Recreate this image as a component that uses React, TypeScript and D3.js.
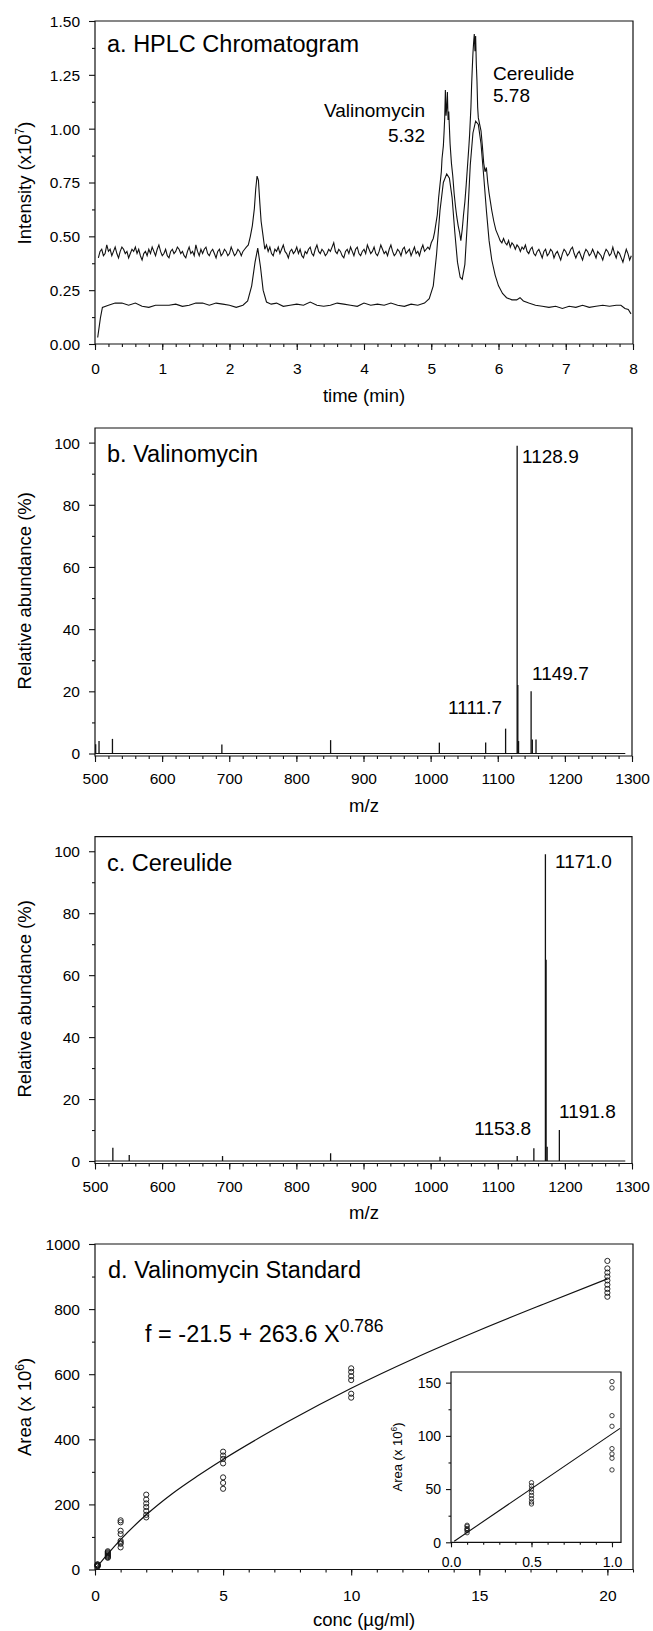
import React, { useEffect, useRef } from "react";
import * as d3 from "d3";

const FONT = "'Liberation Sans', Arial, Helvetica, sans-serif";

// ---- a. HPLC chromatogram: [time (min), intensity (x10^7)]
const ticTrace: [number, number][] = [
  [0.05, 0.4], [0.075, 0.43], [0.1, 0.44], [0.125, 0.41], [0.15, 0.42], [0.175, 0.46], [0.2, 0.43], [0.225, 0.44],
  [0.25, 0.41], [0.275, 0.43], [0.3, 0.45], [0.325, 0.42], [0.35, 0.4], [0.375, 0.43], [0.4, 0.45], [0.425, 0.44],
  [0.45, 0.42], [0.475, 0.43], [0.5, 0.4], [0.525, 0.42], [0.55, 0.44], [0.575, 0.43], [0.6, 0.45], [0.625, 0.42],
  [0.65, 0.44], [0.675, 0.41], [0.7, 0.39], [0.725, 0.42], [0.75, 0.43], [0.775, 0.41], [0.8, 0.44], [0.825, 0.42],
  [0.85, 0.45], [0.875, 0.43], [0.9, 0.41], [0.925, 0.44], [0.95, 0.46], [0.975, 0.43], [1.0, 0.41], [1.025, 0.42],
  [1.05, 0.44], [1.075, 0.41], [1.1, 0.4], [1.125, 0.43], [1.15, 0.44], [1.175, 0.42], [1.2, 0.43], [1.225, 0.45],
  [1.25, 0.44], [1.275, 0.42], [1.3, 0.43], [1.325, 0.41], [1.35, 0.4], [1.375, 0.43], [1.4, 0.45], [1.425, 0.42],
  [1.45, 0.43], [1.475, 0.41], [1.5, 0.46], [1.525, 0.43], [1.55, 0.41], [1.575, 0.44], [1.6, 0.42], [1.625, 0.44],
  [1.65, 0.45], [1.675, 0.42], [1.7, 0.41], [1.725, 0.43], [1.75, 0.44], [1.775, 0.42], [1.8, 0.4], [1.825, 0.43],
  [1.85, 0.44], [1.875, 0.41], [1.9, 0.42], [1.925, 0.44], [1.95, 0.43], [1.975, 0.41], [2.0, 0.42], [2.025, 0.45],
  [2.05, 0.43], [2.075, 0.41], [2.1, 0.42], [2.125, 0.44], [2.15, 0.43], [2.175, 0.41], [2.2, 0.43], [2.225, 0.44],
  [2.25, 0.45], [2.28, 0.46], [2.31, 0.5], [2.34, 0.55], [2.37, 0.63], [2.39, 0.72], [2.41, 0.78], [2.43, 0.76],
  [2.45, 0.66], [2.47, 0.57], [2.5, 0.5], [2.525, 0.44], [2.55, 0.46], [2.575, 0.43], [2.6, 0.45], [2.625, 0.42],
  [2.65, 0.41], [2.675, 0.44], [2.7, 0.43], [2.725, 0.45], [2.75, 0.42], [2.775, 0.44], [2.8, 0.46], [2.825, 0.43],
  [2.85, 0.42], [2.875, 0.4], [2.9, 0.43], [2.925, 0.44], [2.95, 0.42], [2.975, 0.43], [3.0, 0.45], [3.025, 0.42],
  [3.05, 0.44], [3.075, 0.41], [3.1, 0.4], [3.125, 0.43], [3.15, 0.42], [3.175, 0.44], [3.2, 0.45], [3.225, 0.42],
  [3.25, 0.41], [3.275, 0.44], [3.3, 0.46], [3.325, 0.43], [3.35, 0.42], [3.375, 0.44], [3.4, 0.43], [3.425, 0.41],
  [3.45, 0.42], [3.475, 0.44], [3.5, 0.43], [3.525, 0.45], [3.55, 0.47], [3.575, 0.43], [3.6, 0.42], [3.625, 0.44],
  [3.65, 0.43], [3.675, 0.41], [3.7, 0.4], [3.725, 0.43], [3.75, 0.44], [3.775, 0.42], [3.8, 0.45], [3.825, 0.43],
  [3.85, 0.41], [3.875, 0.44], [3.9, 0.45], [3.925, 0.42], [3.95, 0.41], [3.975, 0.43], [4.0, 0.44], [4.025, 0.42],
  [4.05, 0.46], [4.075, 0.44], [4.1, 0.42], [4.125, 0.43], [4.15, 0.45], [4.175, 0.42], [4.2, 0.41], [4.225, 0.43],
  [4.25, 0.46], [4.275, 0.44], [4.3, 0.42], [4.325, 0.43], [4.35, 0.41], [4.375, 0.44], [4.4, 0.46], [4.425, 0.43],
  [4.45, 0.41], [4.475, 0.42], [4.5, 0.44], [4.525, 0.43], [4.55, 0.41], [4.575, 0.44], [4.6, 0.45], [4.625, 0.42],
  [4.65, 0.43], [4.675, 0.44], [4.7, 0.41], [4.725, 0.43], [4.75, 0.45], [4.775, 0.42], [4.8, 0.43], [4.825, 0.41],
  [4.85, 0.44], [4.875, 0.46], [4.9, 0.43], [4.925, 0.44], [4.95, 0.45], [4.975, 0.44], [5.0, 0.47], [5.03, 0.49],
  [5.05, 0.52], [5.07, 0.56], [5.09, 0.6], [5.11, 0.68], [5.13, 0.74], [5.15, 0.8], [5.16, 0.86], [5.18, 0.92],
  [5.19, 0.98], [5.2, 1.05], [5.21, 1.18], [5.22, 1.06], [5.23, 1.1], [5.24, 1.17], [5.25, 1.04], [5.26, 1.08],
  [5.28, 0.93], [5.3, 0.84], [5.32, 0.78], [5.34, 0.7], [5.36, 0.64], [5.38, 0.59], [5.4, 0.55], [5.42, 0.52],
  [5.44, 0.48], [5.46, 0.53], [5.48, 0.6], [5.5, 0.66], [5.52, 0.74], [5.54, 0.83], [5.56, 0.92], [5.57, 0.97],
  [5.59, 1.1], [5.6, 1.2], [5.61, 1.28], [5.62, 1.35], [5.63, 1.4], [5.64, 1.44], [5.65, 1.36], [5.66, 1.43],
  [5.67, 1.3], [5.68, 1.22], [5.69, 1.1], [5.7, 1.05], [5.72, 1.02], [5.74, 0.99], [5.76, 0.92], [5.78, 0.84],
  [5.8, 0.8], [5.82, 0.82], [5.84, 0.75], [5.86, 0.7], [5.88, 0.66], [5.9, 0.62], [5.93, 0.57], [5.96, 0.53],
  [6.0, 0.5], [6.025, 0.48], [6.05, 0.47], [6.075, 0.49], [6.1, 0.47], [6.125, 0.46], [6.15, 0.48], [6.175, 0.45],
  [6.2, 0.47], [6.225, 0.46], [6.25, 0.44], [6.275, 0.46], [6.3, 0.45], [6.325, 0.43], [6.35, 0.45], [6.375, 0.44],
  [6.4, 0.46], [6.425, 0.43], [6.45, 0.42], [6.475, 0.44], [6.5, 0.45], [6.525, 0.42], [6.55, 0.41], [6.575, 0.43],
  [6.6, 0.44], [6.625, 0.42], [6.65, 0.4], [6.675, 0.43], [6.7, 0.44], [6.725, 0.41], [6.75, 0.42], [6.775, 0.44],
  [6.8, 0.43], [6.825, 0.4], [6.85, 0.42], [6.875, 0.43], [6.9, 0.41], [6.925, 0.39], [6.95, 0.42], [6.975, 0.44],
  [7.0, 0.43], [7.025, 0.41], [7.05, 0.42], [7.075, 0.44], [7.1, 0.45], [7.125, 0.42], [7.15, 0.4], [7.175, 0.42],
  [7.2, 0.43], [7.225, 0.41], [7.25, 0.39], [7.275, 0.42], [7.3, 0.44], [7.325, 0.43], [7.35, 0.41], [7.375, 0.42],
  [7.4, 0.44], [7.425, 0.42], [7.45, 0.4], [7.475, 0.43], [7.5, 0.42], [7.525, 0.41], [7.55, 0.39], [7.575, 0.42],
  [7.6, 0.44], [7.625, 0.43], [7.65, 0.41], [7.675, 0.42], [7.7, 0.45], [7.725, 0.42], [7.75, 0.4], [7.775, 0.43],
  [7.8, 0.42], [7.825, 0.4], [7.85, 0.38], [7.875, 0.41], [7.9, 0.44], [7.925, 0.42], [7.95, 0.39], [7.975, 0.41],
];

const uvTrace: [number, number][] = [
  [0.04, 0.03], [0.08, 0.12], [0.11, 0.17], [0.2, 0.18], [0.3, 0.19], [0.4, 0.19], [0.5, 0.18], [0.6, 0.19],
  [0.7, 0.175], [0.8, 0.17], [0.9, 0.18], [1.0, 0.18], [1.1, 0.18], [1.2, 0.185], [1.3, 0.175], [1.4, 0.18],
  [1.5, 0.19], [1.6, 0.19], [1.7, 0.18], [1.8, 0.19], [1.9, 0.185], [2.0, 0.18], [2.1, 0.17], [2.2, 0.18],
  [2.27, 0.2], [2.33, 0.27], [2.38, 0.38], [2.42, 0.445], [2.46, 0.36], [2.5, 0.25], [2.55, 0.195], [2.62, 0.185],
  [2.7, 0.19], [2.8, 0.175], [2.9, 0.18], [3.0, 0.185], [3.1, 0.18], [3.2, 0.195], [3.3, 0.18], [3.4, 0.175],
  [3.5, 0.18], [3.6, 0.19], [3.7, 0.185], [3.8, 0.18], [3.9, 0.175], [4.0, 0.19], [4.1, 0.18], [4.2, 0.185],
  [4.3, 0.18], [4.4, 0.19], [4.5, 0.18], [4.6, 0.175], [4.7, 0.185], [4.8, 0.18], [4.9, 0.19], [4.97, 0.21],
  [5.03, 0.27], [5.08, 0.42], [5.13, 0.62], [5.18, 0.75], [5.23, 0.79], [5.27, 0.77], [5.31, 0.68], [5.35, 0.52],
  [5.39, 0.38], [5.43, 0.31], [5.46, 0.3], [5.5, 0.37], [5.54, 0.58], [5.58, 0.83], [5.62, 0.98], [5.66, 1.035],
  [5.7, 1.02], [5.74, 0.93], [5.78, 0.78], [5.82, 0.62], [5.86, 0.48], [5.9, 0.39], [5.95, 0.32], [6.0, 0.27],
  [6.06, 0.235], [6.12, 0.215], [6.2, 0.205], [6.27, 0.205], [6.32, 0.215], [6.37, 0.2], [6.45, 0.19], [6.55, 0.18],
  [6.65, 0.175], [6.75, 0.17], [6.85, 0.175], [6.95, 0.165], [7.05, 0.175], [7.15, 0.17], [7.25, 0.18], [7.35, 0.17],
  [7.45, 0.175], [7.55, 0.18], [7.65, 0.175], [7.75, 0.18], [7.82, 0.18], [7.88, 0.165], [7.93, 0.16], [7.97, 0.14],
];

const timeTicks = [0, 1, 2, 3, 4, 5, 6, 7, 8];
const intensityTicks = [0, 0.25, 0.5, 0.75, 1.0, 1.25, 1.5];

// ---- b. Valinomycin spectrum
const valMz = [501, 506, 526, 689, 851, 1013, 1082, 1111.7, 1128.9, 1129.9, 1131, 1149.7, 1151.5, 1157];
const valAbund = [3, 4, 4.7, 2.9, 4.3, 3.5, 3.5, 8, 99, 22, 4, 20, 4.5, 4.5];

// ---- c. Cereulide spectrum
const cerMz = [526.6, 551, 690, 851, 1014, 1129, 1153.8, 1171.0, 1172.0, 1173.6, 1191.8];
const cerAbund = [4.3, 1.9, 1.6, 2.5, 1.4, 1.6, 4.1, 99, 65, 4.6, 10];

const mzTicks = [500, 600, 700, 800, 900, 1000, 1100, 1200, 1300];
const abundTicks = [0, 20, 40, 60, 80, 100];

// ---- d. Valinomycin standard
const stdConc = [0.1, 0.5, 1, 2, 5, 10, 20];
const stdArea = [
  [16, 15, 13, 12, 11, 9],
  [56, 53, 50, 47, 44, 41, 38, 36],
  [151, 145, 119, 109, 88, 83, 79, 68],
  [230, 215, 203, 192, 180, 168, 160],
  [362, 350, 340, 326, 283, 266, 248],
  [618, 607, 594, 582, 540, 528],
  [948, 925, 912, 900, 888, 875, 862, 850, 838],
];
const fitConc = [0.1, 0.5, 1, 2, 3, 4, 5, 7.5, 10, 12.5, 15, 17.5, 20];
const fitArea = [10, 48, 92, 168, 232, 287, 338, 453, 557, 650, 735, 815, 893];
const insetFitConc = [0.02, 1.05];
const insetFitArea = [1, 107];

const concTicks = [0, 5, 10, 15, 20];
const areaTicks = [0, 200, 400, 600, 800, 1000];
const insetConcTicks = [0, 0.5, 1.0];
const insetAreaTicks = [0, 50, 100, 150];

const INK = "#111";

function frame(g, x, y, o) {
  const [x0, x1] = x.range();
  const top = y.range()[1];
  const base = o.base;
  g.append("path")
    .attr("d", `M${x0},${top}H${x1}V${base}H${x0}Z`)
    .attr("fill", o.fill || "none")
    .attr("stroke", INK)
    .attr("stroke-width", 1.2);

  const style = (s, labelled, isX) => {
    s.select(".domain").remove();
    s.selectAll("line").attr("stroke", INK).attr("stroke-width", 1.1);
    if (labelled) {
      s.selectAll("text")
        .attr("font-family", FONT)
        .attr("font-size", o.tickFont)
        .attr("fill", "#000");
      if (isX) s.selectAll("text").attr("y", o.xLabelDy).attr("dy", 0);
      else s.selectAll("text").attr("x", -o.yLabelDx).attr("dy", "0.35em");
    }
  };

  g.append("g")
    .attr("transform", `translate(0,${base})`)
    .call(d3.axisBottom(x).tickValues(o.xMinor).tickSize(o.minorLen).tickFormat(() => ""))
    .call((s) => style(s, false, true));
  g.append("g")
    .attr("transform", `translate(0,${base})`)
    .call(d3.axisBottom(x).tickValues(o.xMajor).tickSize(o.majorLen).tickFormat(o.xFmt))
    .call((s) => style(s, true, true));
  g.append("g")
    .attr("transform", `translate(${x0},0)`)
    .call(d3.axisLeft(y).tickValues(o.yMinor).tickSize(o.minorLen).tickFormat(() => ""))
    .call((s) => style(s, false, false));
  g.append("g")
    .attr("transform", `translate(${x0},0)`)
    .call(d3.axisLeft(y).tickValues(o.yMajor).tickSize(o.majorLen).tickFormat(o.yFmt))
    .call((s) => style(s, true, false));
}

function label(g, x, y, txt, size, anchor = "start") {
  return g
    .append("text")
    .attr("x", x)
    .attr("y", y)
    .attr("font-family", FONT)
    .attr("font-size", size)
    .attr("text-anchor", anchor)
    .attr("fill", "#000")
    .text(txt);
}

function yTitle(g, x, y, txt, sup, size) {
  const t = g
    .append("text")
    .attr("transform", `translate(${x},${y}) rotate(-90)`)
    .attr("font-family", FONT)
    .attr("font-size", size)
    .attr("text-anchor", "middle")
    .attr("fill", "#000");
  t.append("tspan").text(txt);
  t.append("tspan").attr("font-size", size * 0.65).attr("dy", -size * 0.4).text(sup);
  t.append("tspan").attr("dy", size * 0.4).text(")");
}

export default function App() {
  const ref = useRef<SVGSVGElement>(null);

  useEffect(() => {
    const svg = d3.select(ref.current);
    svg.selectAll("*").remove();
    svg.append("rect").attr("width", 653).attr("height", 1631).attr("fill", "#fff");

    // ---------- panel a
    const ga = svg.append("g");
    const xa = d3.scaleLinear().domain([0, 8]).range([95, 633]);
    const ya = d3.scaleLinear().domain([0, 1.5]).range([344, 21]);
    frame(ga, xa, ya, {
      base: 344,
      xMajor: timeTicks,
      xMinor: d3.range(0, 8.001, 0.2),
      yMajor: intensityTicks,
      yMinor: d3.range(0.125, 1.5, 0.25),
      xFmt: d3.format("d"),
      yFmt: d3.format(".2f"),
      tickFont: 15.5,
      majorLen: 6,
      minorLen: 3,
      xLabelDy: 30,
      yLabelDx: 15,
    });
    const lineA = d3
      .line<[number, number]>()
      .x((d) => xa(d[0]))
      .y((d) => ya(d[1]));
    ga.append("path").attr("d", lineA(uvTrace)).attr("fill", "none").attr("stroke", INK).attr("stroke-width", 1.1);
    ga.append("path").attr("d", lineA(ticTrace)).attr("fill", "none").attr("stroke", INK).attr("stroke-width", 1.1);
    label(ga, 107, 52, "a. HPLC Chromatogram", 23.5);
    label(ga, 425, 117, "Valinomycin", 19, "end");
    label(ga, 425, 142, "5.32", 19, "end");
    label(ga, 493, 80, "Cereulide", 19);
    label(ga, 493, 102, "5.78", 19);
    label(ga, 364, 402, "time (min)", 18.5, "middle");
    yTitle(ga, 31, 183, "Intensity (x10", "7", 18.5);

    // ---------- panels b and c
    const spectrum = (top, base, mz, ab, title, titleY, peaks) => {
      const g = svg.append("g");
      const x = d3.scaleLinear().domain([500, 1300]).range([95, 632]);
      const y = d3.scaleLinear().domain([0, 104.7]).range([base, top]);
      frame(g, x, y, {
        base: base + 2.5,
        xMajor: mzTicks,
        xMinor: d3.range(500, 1300.1, 20),
        yMajor: abundTicks,
        yMinor: d3.range(10, 100, 20),
        xFmt: d3.format("d"),
        yFmt: d3.format("d"),
        tickFont: 15.5,
        majorLen: 6,
        minorLen: 3,
        xLabelDy: 28,
        yLabelDx: 15,
      });
      g.append("line")
        .attr("x1", x(500))
        .attr("x2", x(1290))
        .attr("y1", y(0))
        .attr("y2", y(0))
        .attr("stroke", INK)
        .attr("stroke-width", 1);
      g.selectAll("line.bar")
        .data(mz)
        .join("line")
        .attr("class", "bar")
        .attr("x1", (d) => x(d))
        .attr("x2", (d) => x(d))
        .attr("y1", y(0))
        .attr("y2", (d, i) => y(ab[i]))
        .attr("stroke", INK)
        .attr("stroke-width", 1.3);
      label(g, 107, titleY, title, 23.5);
      peaks.forEach((p) => label(g, p[0], p[1], p[2], 19, p[3]));
      label(g, 364, base + 58, "m/z", 18.5, "middle");
      g.append("text")
        .attr("transform", `translate(31,${(top + base) / 2}) rotate(-90)`)
        .attr("font-family", FONT)
        .attr("font-size", 18.5)
        .attr("text-anchor", "middle")
        .text("Relative abundance (%)");
    };
    spectrum(428, 753.5, valMz, valAbund, "b. Valinomycin", 462, [
      [522, 463, "1128.9", "start"],
      [532, 680, "1149.7", "start"],
      [502, 714, "1111.7", "end"],
    ]);
    spectrum(836.7, 1161, cerMz, cerAbund, "c. Cereulide", 871, [
      [555, 868, "1171.0", "start"],
      [559, 1118, "1191.8", "start"],
      [531, 1135, "1153.8", "end"],
    ]);

    // ---------- panel d
    const gd = svg.append("g");
    const xd = d3.scaleLinear().domain([0, 21]).range([95, 633]);
    const yd = d3.scaleLinear().domain([0, 1000]).range([1569.5, 1244]);
    frame(gd, xd, yd, {
      base: 1569.5,
      xMajor: concTicks,
      xMinor: d3.range(0, 21.01, 1),
      yMajor: areaTicks,
      yMinor: d3.range(100, 1000, 200),
      xFmt: d3.format("d"),
      yFmt: d3.format("d"),
      tickFont: 15.5,
      majorLen: 6,
      minorLen: 3,
      xLabelDy: 31,
      yLabelDx: 15,
    });
    const pts = stdConc.flatMap((c, i) => stdArea[i].map((a) => [c, a]));
    const fit = fitConc.map((c, i) => [c, fitArea[i]]);
    gd.append("path")
      .attr(
        "d",
        d3
          .line()
          .x((d) => xd(d[0]))
          .y((d) => yd(d[1]))
          .curve(d3.curveMonotoneX)(fit)
      )
      .attr("fill", "none")
      .attr("stroke", INK)
      .attr("stroke-width", 1.2);
    gd.selectAll("circle.pt")
      .data(pts)
      .join("circle")
      .attr("class", "pt")
      .attr("cx", (d) => xd(d[0]))
      .attr("cy", (d) => yd(d[1]))
      .attr("r", 2.6)
      .attr("fill", "none")
      .attr("stroke", INK)
      .attr("stroke-width", 0.9);
    label(gd, 108, 1278, "d. Valinomycin Standard", 23.5);
    const eq = gd
      .append("text")
      .attr("x", 145)
      .attr("y", 1342)
      .attr("font-family", FONT)
      .attr("font-size", 23.5)
      .attr("fill", "#000");
    eq.append("tspan").text("f = -21.5 + 263.6 X");
    eq.append("tspan").attr("font-size", 17.5).attr("dy", -10).text("0.786");
    label(gd, 364, 1626, "conc (µg/ml)", 18.5, "middle");
    yTitle(gd, 31, 1407, "Area (x 10", "6", 18.5);

    // inset
    const gi = svg.append("g");
    const xi = d3.scaleLinear().domain([0, 1.056]).range([451, 621]);
    const yi = d3.scaleLinear().domain([0, 160]).range([1542.3, 1372]);
    frame(gi, xi, yi, {
      base: 1542.3,
      fill: "#fff",
      xMajor: insetConcTicks,
      xMinor: d3.range(0, 1.05, 0.1),
      yMajor: insetAreaTicks,
      yMinor: [25, 75, 125],
      xFmt: d3.format(".1f"),
      yFmt: d3.format("d"),
      tickFont: 14,
      majorLen: 5,
      minorLen: 2.5,
      xLabelDy: 25,
      yLabelDx: 10,
    });
    const insetPts = pts.filter((d) => d[0] <= 1);
    gi.append("path")
      .attr(
        "d",
        d3
          .line()
          .x((d) => xi(d[0]))
          .y((d) => yi(d[1]))(insetFitConc.map((c, i) => [c, insetFitArea[i]]))
      )
      .attr("fill", "none")
      .attr("stroke", INK)
      .attr("stroke-width", 1.1);
    gi.selectAll("circle.ip")
      .data(insetPts)
      .join("circle")
      .attr("class", "ip")
      .attr("cx", (d) => xi(d[0]))
      .attr("cy", (d) => yi(d[1]))
      .attr("r", 2.2)
      .attr("fill", "none")
      .attr("stroke", INK)
      .attr("stroke-width", 0.8);
    yTitle(gi, 402, 1457, "Area (x 10", "6", 13);
  }, []);

  return (
    <svg
      ref={ref}
      width={653}
      height={1631}
      style={{ position: "absolute", left: 0, top: 0, display: "block" }}
    />
  );
}
